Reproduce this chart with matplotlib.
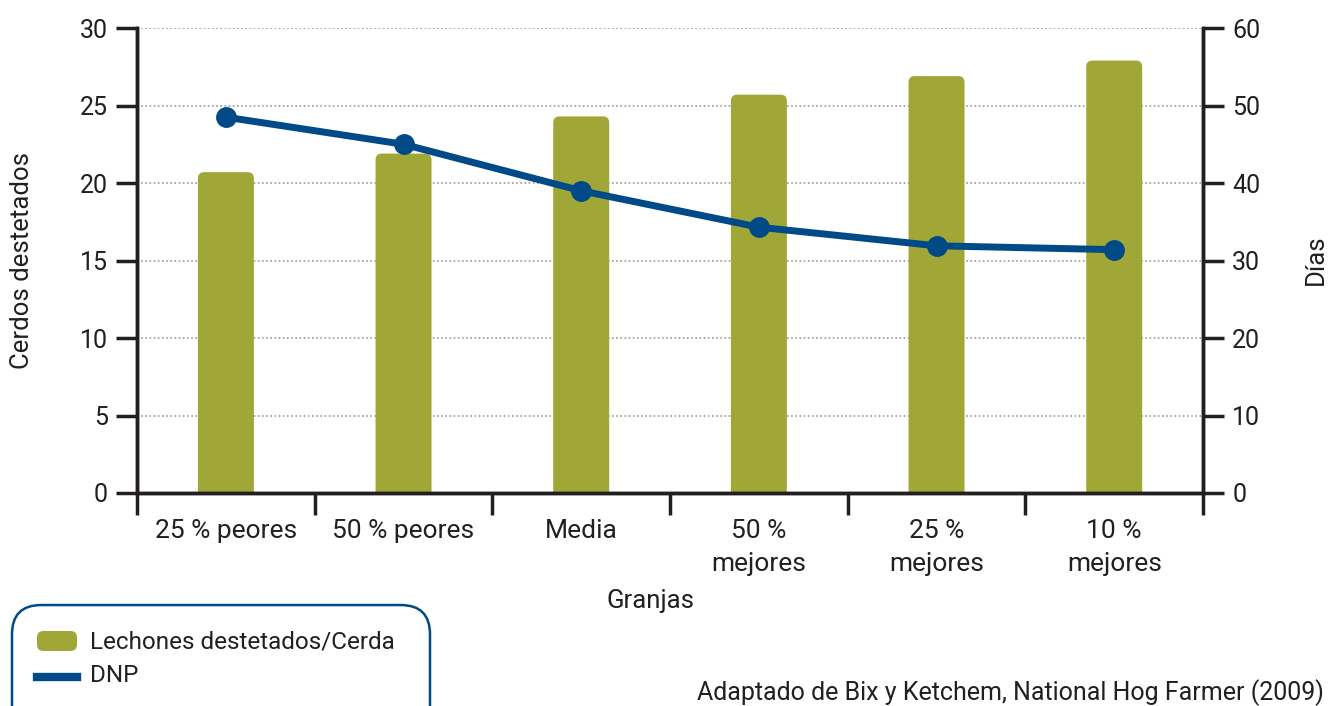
import matplotlib
matplotlib.use('Agg')
import matplotlib.pyplot as plt
from matplotlib.patches import FancyBboxPatch
from matplotlib.lines import Line2D

plt.rcParams['font.family'] = ['Roboto', 'DejaVu Sans']

# datos
granjas = ['25 % peores', '50 % peores', 'Media', '50 %\nmejores', '25 %\nmejores', '10 %\nmejores']
lechones = [20.7, 21.9, 24.3, 25.7, 26.9, 27.9]
dnp = [48.5, 45.0, 39.0, 34.3, 31.9, 31.4]

verde = '#A0A737'
azul = '#004A87'
oscuro = '#231F20'

fig = plt.figure(figsize=(13.28, 7.06), dpi=100)
ax = fig.add_axes([0.1032, 0.3017, 0.8027, 0.6586])
ax2 = ax.twinx()

x = list(range(len(granjas)))
barras = ax.bar(x, lechones, width=0.315, color=verde, zorder=2)
# esquinas superiores redondeadas (la parte de abajo queda bajo el eje)
for r in barras:
    r.set_visible(False)
    p = FancyBboxPatch((r.get_x(), -1), r.get_width(), r.get_height() + 1,
                       boxstyle='round,pad=0,rounding_size=0.035',
                       mutation_aspect=11.5, fc=verde, ec='none', zorder=2)
    ax.add_patch(p)
ax2.plot(x, dnp, color=azul, lw=5, marker='o', ms=14, zorder=3)

ax.set_xlim(-0.5, 5.5)
ax.set_ylim(0, 30)
ax2.set_ylim(0, 60)
ax.set_yticks(range(0, 31, 5))
ax2.set_yticks(range(0, 61, 10))
ax.yaxis.grid(True, linestyle=(0, (1, 1.5)), color='#999999', lw=1.2, zorder=0)
ax.set_axisbelow(True)

# ticks del eje x en los limites de cada categoria
ax.set_xticks([i - 0.5 for i in range(len(granjas) + 1)])
ax.set_xticklabels([])
ax.set_xticks(x, minor=True)
ax.set_xticklabels(granjas, minor=True, fontsize=19, color=oscuro)
ax.tick_params(axis='x', which='major', length=16, width=2.5, color=oscuro, direction='out')
ax.tick_params(axis='x', which='minor', length=0, pad=19)
for t in ax.get_xticklabels(minor=True):
    t.set_linespacing(1.45)

ax.tick_params(axis='y', length=15, width=2.5, color=oscuro, labelsize=18, labelcolor=oscuro, pad=6)
ax2.tick_params(axis='y', length=15, width=2.5, color=oscuro, labelsize=18, labelcolor=oscuro, pad=6)

for a in (ax, ax2):
    a.spines['top'].set_visible(False)
    for s in ('left', 'right', 'bottom'):
        a.spines[s].set_linewidth(2.5)
        a.spines[s].set_color(oscuro)

fig.text(22 / 1328, 1 - 260 / 706, 'Cerdos destetados', fontsize=18.5, color=oscuro,
         rotation=90, ha='center', va='center')
fig.text(1316 / 1328, 1 - 260 / 706, 'Días', fontsize=18.5, color=oscuro,
         rotation=90, ha='center', va='center')
fig.text(650 / 1328, 1 - 601 / 706, 'Granjas', fontsize=18.5, color=oscuro, ha='center', va='center')

# leyenda
caja = FancyBboxPatch((12 / 1328, -0.06), 418 / 1328, 0.203,
                      boxstyle='round,pad=0,rounding_size=0.022',
                      transform=fig.transFigure, fc='white', ec=azul, lw=1.8,
                      mutation_aspect=1328 / 706)
fig.patches.append(caja)
h1 = FancyBboxPatch((37 / 1328, 1 - 651 / 706), 40 / 1328, 20 / 706,
                    boxstyle='round,pad=0,rounding_size=0.005',
                    transform=fig.transFigure, fc=verde, ec='none',
                    mutation_aspect=1328 / 706)
fig.patches.append(h1)
fig.lines.append(Line2D([37 / 1328, 77 / 1328], [1 - 677 / 706] * 2, color=azul, lw=6,
                        transform=fig.transFigure))
fig.text(90 / 1328, 1 - 642 / 706, 'Lechones destetados/Cerda', fontsize=17.5, color=oscuro, va='center')
fig.text(90 / 1328, 1 - 676 / 706, 'DNP', fontsize=17.5, color=oscuro, va='center')

fig.text(1324 / 1328, 1 - 700 / 706, 'Adaptado de Bix y Ketchem, National Hog Farmer (2009)',
         fontsize=18, color=oscuro, va='baseline', ha='right')

fig.savefig('out.png', dpi=100)
